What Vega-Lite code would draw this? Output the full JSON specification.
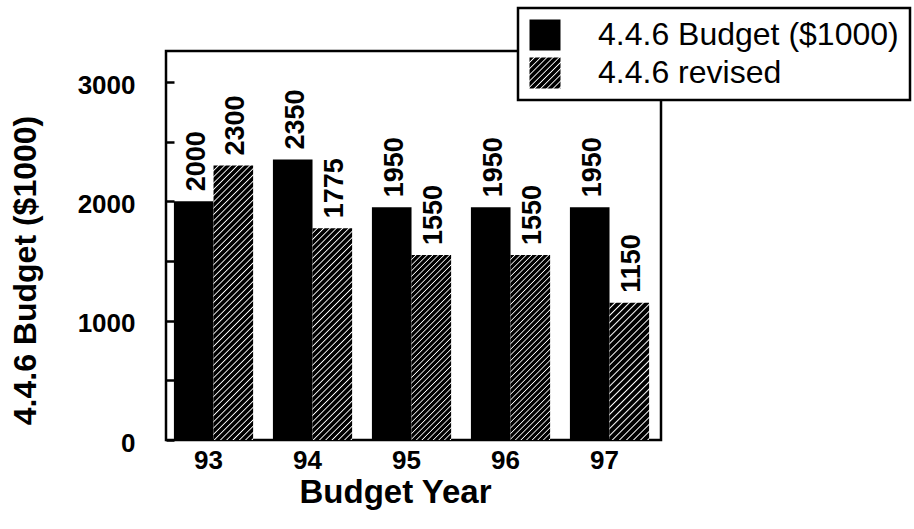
{
  "$schema": "https://vega.github.io/schema/vega-lite/v6.json",
  "width": 495,
  "height": 389,
  "autosize": {"type": "none"},
  "padding": {"left": 166, "top": 51, "right": 253, "bottom": 89},
  "background": "white",
  "config": {"view": {"stroke": "black", "strokeWidth": 2.5, "fill": "white"}, "font": "Liberation Sans", "legend": {"strokeWidth": 2.5}},
  "params": [
    {"name": "legendHatch", "value": {"gradient": "linear", "x1": 0, "y1": 0, "x2": 1, "y2": 1, "stops": [
{"offset":0,"color":"#000"},{"offset":0.06,"color":"#000"},{"offset":0.08,"color":"#fff"},
{"offset":0.1,"color":"#000"},{"offset":0.16,"color":"#000"},{"offset":0.18,"color":"#fff"},
{"offset":0.2,"color":"#000"},{"offset":0.26,"color":"#000"},{"offset":0.28,"color":"#fff"},
{"offset":0.3,"color":"#000"},{"offset":0.36,"color":"#000"},{"offset":0.38,"color":"#fff"},
{"offset":0.4,"color":"#000"},{"offset":0.46,"color":"#000"},{"offset":0.48,"color":"#fff"},
{"offset":0.5,"color":"#000"},{"offset":0.56,"color":"#000"},{"offset":0.58,"color":"#fff"},
{"offset":0.6,"color":"#000"},{"offset":0.66,"color":"#000"},{"offset":0.68,"color":"#fff"},
{"offset":0.7,"color":"#000"},{"offset":0.76,"color":"#000"},{"offset":0.78,"color":"#fff"},
{"offset":0.8,"color":"#000"},{"offset":0.86,"color":"#000"},{"offset":0.88,"color":"#fff"},
{"offset":0.9,"color":"#000"},{"offset":0.96,"color":"#000"},{"offset":0.98,"color":"#fff"},
{"offset":1,"color":"#000"}]}}
  ],
  "data": {"values": [
    {"Year": "93", "Series": "4.4.6 Budget ($1000)", "Value": 2000},
    {"Year": "93", "Series": "4.4.6 revised", "Value": 2300},
    {"Year": "94", "Series": "4.4.6 Budget ($1000)", "Value": 2350},
    {"Year": "94", "Series": "4.4.6 revised", "Value": 1775},
    {"Year": "95", "Series": "4.4.6 Budget ($1000)", "Value": 1950},
    {"Year": "95", "Series": "4.4.6 revised", "Value": 1550},
    {"Year": "96", "Series": "4.4.6 Budget ($1000)", "Value": 1950},
    {"Year": "96", "Series": "4.4.6 revised", "Value": 1550},
    {"Year": "97", "Series": "4.4.6 Budget ($1000)", "Value": 1950},
    {"Year": "97", "Series": "4.4.6 revised", "Value": 1150}
  ]},
  "encoding": {
    "x": {"field": "Year", "type": "nominal", "title": "Budget Year",
      "scale": {"paddingInner": 0.2, "paddingOuter": 0.1, "align": 0.4},
      "axis": {"ticks": false, "domain": false, "grid": false, "labelAngle": 0, "labelFont": "Liberation Sans", "labelFontSize": 26, "labelFontWeight": "bold", "labelColor": "black", "labelPadding": 7, "labelOffset": -5,
        "titleFont": "Liberation Sans", "titleFontSize": 33, "titleFontWeight": "bold", "titleColor": "black", "titleX": 229, "titleY": 62, "titleBaseline": "alphabetic", "titleAlign": "center"}},
    "xOffset": {"field": "Series", "type": "nominal", "scale": {"domain": ["4.4.6 Budget ($1000)", "4.4.6 revised"]}},
    "y": {"field": "Value", "type": "quantitative", "title": "4.4.6 Budget ($1000)",
      "scale": {"domain": [0, 3260], "nice": false},
      "axis": {"values": [0, 500, 1000, 1500, 2000, 2500, 3000], "format": "d", "labelExpr": "datum.value % 1000 == 0 ? datum.label : ''",
        "domain": false, "grid": false, "tickSize": -8, "tickWidth": 2.5, "tickColor": "black",
        "labelFont": "Liberation Sans", "labelFontSize": 26, "labelFontWeight": "bold", "labelColor": "black", "labelPadding": 39, "labelOffset": 3,
        "titleFont": "Liberation Sans", "titleFontSize": 32, "titleFontWeight": "bold", "titleColor": "black", "titleAngle": 270, "titleX": -141, "titleY": 219, "titleAlign": "center", "titleBaseline": "middle"}}
  },
  "layer": [
    {"mark": {"type": "bar"},
     "encoding": {
      "fill": {"field": "Series", "type": "nominal",
        "scale": {"domain": ["4.4.6 Budget ($1000)", "4.4.6 revised"], "range": ["black", {"expr": "legendHatch"}]},
        "legend": {"title": null, "orient": "none", "legendX": 352, "legendY": -43, "symbolType": "square", "symbolSize": 961, "symbolStrokeWidth": 0, "symbolOpacity": 1,
          "labelFont": "Liberation Sans", "labelFontSize": 32, "labelColor": "black", "labelOffset": 37, "labelLimit": 500, "padding": 11, "rowPadding": 6,
          "strokeColor": "black", "fillColor": "white"},
        "condition": [
          {"test": "datum.Series == '4.4.6 revised' && datum.Year == '93'", "value": {"gradient": "linear", "x1": 0, "y1": 0, "x2": 0.1617, "y2": 1.1209, "stops": [
{"offset":0,"color":"#000"},{"offset":0.012,"color":"#000"},{"offset":0.016,"color":"#fff"},
{"offset":0.02,"color":"#000"},{"offset":0.032,"color":"#000"},{"offset":0.036,"color":"#fff"},
{"offset":0.04,"color":"#000"},{"offset":0.052,"color":"#000"},{"offset":0.056,"color":"#fff"},
{"offset":0.06,"color":"#000"},{"offset":0.072,"color":"#000"},{"offset":0.076,"color":"#fff"},
{"offset":0.08,"color":"#000"},{"offset":0.092,"color":"#000"},{"offset":0.096,"color":"#fff"},
{"offset":0.1,"color":"#000"},{"offset":0.112,"color":"#000"},{"offset":0.116,"color":"#fff"},
{"offset":0.12,"color":"#000"},{"offset":0.132,"color":"#000"},{"offset":0.136,"color":"#fff"},
{"offset":0.14,"color":"#000"},{"offset":0.152,"color":"#000"},{"offset":0.156,"color":"#fff"},
{"offset":0.16,"color":"#000"},{"offset":0.172,"color":"#000"},{"offset":0.176,"color":"#fff"},
{"offset":0.18,"color":"#000"},{"offset":0.192,"color":"#000"},{"offset":0.196,"color":"#fff"},
{"offset":0.2,"color":"#000"},{"offset":0.212,"color":"#000"},{"offset":0.216,"color":"#fff"},
{"offset":0.22,"color":"#000"},{"offset":0.232,"color":"#000"},{"offset":0.236,"color":"#fff"},
{"offset":0.24,"color":"#000"},{"offset":0.252,"color":"#000"},{"offset":0.256,"color":"#fff"},
{"offset":0.26,"color":"#000"},{"offset":0.272,"color":"#000"},{"offset":0.276,"color":"#fff"},
{"offset":0.28,"color":"#000"},{"offset":0.292,"color":"#000"},{"offset":0.296,"color":"#fff"},
{"offset":0.3,"color":"#000"},{"offset":0.312,"color":"#000"},{"offset":0.316,"color":"#fff"},
{"offset":0.32,"color":"#000"},{"offset":0.332,"color":"#000"},{"offset":0.336,"color":"#fff"},
{"offset":0.34,"color":"#000"},{"offset":0.352,"color":"#000"},{"offset":0.356,"color":"#fff"},
{"offset":0.36,"color":"#000"},{"offset":0.372,"color":"#000"},{"offset":0.376,"color":"#fff"},
{"offset":0.38,"color":"#000"},{"offset":0.392,"color":"#000"},{"offset":0.396,"color":"#fff"},
{"offset":0.4,"color":"#000"},{"offset":0.412,"color":"#000"},{"offset":0.416,"color":"#fff"},
{"offset":0.42,"color":"#000"},{"offset":0.432,"color":"#000"},{"offset":0.436,"color":"#fff"},
{"offset":0.44,"color":"#000"},{"offset":0.452,"color":"#000"},{"offset":0.456,"color":"#fff"},
{"offset":0.46,"color":"#000"},{"offset":0.472,"color":"#000"},{"offset":0.476,"color":"#fff"},
{"offset":0.48,"color":"#000"},{"offset":0.492,"color":"#000"},{"offset":0.496,"color":"#fff"},
{"offset":0.5,"color":"#000"},{"offset":0.512,"color":"#000"},{"offset":0.516,"color":"#fff"},
{"offset":0.52,"color":"#000"},{"offset":0.532,"color":"#000"},{"offset":0.536,"color":"#fff"},
{"offset":0.54,"color":"#000"},{"offset":0.552,"color":"#000"},{"offset":0.556,"color":"#fff"},
{"offset":0.56,"color":"#000"},{"offset":0.572,"color":"#000"},{"offset":0.576,"color":"#fff"},
{"offset":0.58,"color":"#000"},{"offset":0.592,"color":"#000"},{"offset":0.596,"color":"#fff"},
{"offset":0.6,"color":"#000"},{"offset":0.612,"color":"#000"},{"offset":0.616,"color":"#fff"},
{"offset":0.62,"color":"#000"},{"offset":0.632,"color":"#000"},{"offset":0.636,"color":"#fff"},
{"offset":0.64,"color":"#000"},{"offset":0.652,"color":"#000"},{"offset":0.656,"color":"#fff"},
{"offset":0.66,"color":"#000"},{"offset":0.672,"color":"#000"},{"offset":0.676,"color":"#fff"},
{"offset":0.68,"color":"#000"},{"offset":0.692,"color":"#000"},{"offset":0.696,"color":"#fff"},
{"offset":0.7,"color":"#000"},{"offset":0.712,"color":"#000"},{"offset":0.716,"color":"#fff"},
{"offset":0.72,"color":"#000"},{"offset":0.732,"color":"#000"},{"offset":0.736,"color":"#fff"},
{"offset":0.74,"color":"#000"},{"offset":0.752,"color":"#000"},{"offset":0.756,"color":"#fff"},
{"offset":0.76,"color":"#000"},{"offset":0.772,"color":"#000"},{"offset":0.776,"color":"#fff"},
{"offset":0.78,"color":"#000"},{"offset":0.792,"color":"#000"},{"offset":0.796,"color":"#fff"},
{"offset":0.8,"color":"#000"},{"offset":0.812,"color":"#000"},{"offset":0.816,"color":"#fff"},
{"offset":0.82,"color":"#000"},{"offset":0.832,"color":"#000"},{"offset":0.836,"color":"#fff"},
{"offset":0.84,"color":"#000"},{"offset":0.852,"color":"#000"},{"offset":0.856,"color":"#fff"},
{"offset":0.86,"color":"#000"},{"offset":0.872,"color":"#000"},{"offset":0.876,"color":"#fff"},
{"offset":0.88,"color":"#000"},{"offset":0.892,"color":"#000"},{"offset":0.896,"color":"#fff"},
{"offset":0.9,"color":"#000"},{"offset":0.912,"color":"#000"},{"offset":0.916,"color":"#fff"},
{"offset":0.92,"color":"#000"},{"offset":0.932,"color":"#000"},{"offset":0.936,"color":"#fff"},
{"offset":0.94,"color":"#000"},{"offset":0.952,"color":"#000"},{"offset":0.956,"color":"#fff"},
{"offset":0.96,"color":"#000"},{"offset":0.972,"color":"#000"},{"offset":0.976,"color":"#fff"},
{"offset":0.98,"color":"#000"},{"offset":0.992,"color":"#000"},{"offset":0.996,"color":"#fff"},
{"offset":1,"color":"#000"}]}},
          {"test": "datum.Series == '4.4.6 revised' && datum.Year == '94'", "value": {"gradient": "linear", "x1": 0, "y1": 0, "x2": 0.2144, "y2": 1.1469, "stops": [
{"offset":0,"color":"#000"},{"offset":0.015,"color":"#000"},{"offset":0.02,"color":"#fff"},
{"offset":0.025,"color":"#000"},{"offset":0.04,"color":"#000"},{"offset":0.045,"color":"#fff"},
{"offset":0.05,"color":"#000"},{"offset":0.065,"color":"#000"},{"offset":0.07,"color":"#fff"},
{"offset":0.075,"color":"#000"},{"offset":0.09,"color":"#000"},{"offset":0.095,"color":"#fff"},
{"offset":0.1,"color":"#000"},{"offset":0.115,"color":"#000"},{"offset":0.12,"color":"#fff"},
{"offset":0.125,"color":"#000"},{"offset":0.14,"color":"#000"},{"offset":0.145,"color":"#fff"},
{"offset":0.15,"color":"#000"},{"offset":0.165,"color":"#000"},{"offset":0.17,"color":"#fff"},
{"offset":0.175,"color":"#000"},{"offset":0.19,"color":"#000"},{"offset":0.195,"color":"#fff"},
{"offset":0.2,"color":"#000"},{"offset":0.215,"color":"#000"},{"offset":0.22,"color":"#fff"},
{"offset":0.225,"color":"#000"},{"offset":0.24,"color":"#000"},{"offset":0.245,"color":"#fff"},
{"offset":0.25,"color":"#000"},{"offset":0.265,"color":"#000"},{"offset":0.27,"color":"#fff"},
{"offset":0.275,"color":"#000"},{"offset":0.29,"color":"#000"},{"offset":0.295,"color":"#fff"},
{"offset":0.3,"color":"#000"},{"offset":0.315,"color":"#000"},{"offset":0.32,"color":"#fff"},
{"offset":0.325,"color":"#000"},{"offset":0.34,"color":"#000"},{"offset":0.345,"color":"#fff"},
{"offset":0.35,"color":"#000"},{"offset":0.365,"color":"#000"},{"offset":0.37,"color":"#fff"},
{"offset":0.375,"color":"#000"},{"offset":0.39,"color":"#000"},{"offset":0.395,"color":"#fff"},
{"offset":0.4,"color":"#000"},{"offset":0.415,"color":"#000"},{"offset":0.42,"color":"#fff"},
{"offset":0.425,"color":"#000"},{"offset":0.44,"color":"#000"},{"offset":0.445,"color":"#fff"},
{"offset":0.45,"color":"#000"},{"offset":0.465,"color":"#000"},{"offset":0.47,"color":"#fff"},
{"offset":0.475,"color":"#000"},{"offset":0.49,"color":"#000"},{"offset":0.495,"color":"#fff"},
{"offset":0.5,"color":"#000"},{"offset":0.515,"color":"#000"},{"offset":0.52,"color":"#fff"},
{"offset":0.525,"color":"#000"},{"offset":0.54,"color":"#000"},{"offset":0.545,"color":"#fff"},
{"offset":0.55,"color":"#000"},{"offset":0.565,"color":"#000"},{"offset":0.57,"color":"#fff"},
{"offset":0.575,"color":"#000"},{"offset":0.59,"color":"#000"},{"offset":0.595,"color":"#fff"},
{"offset":0.6,"color":"#000"},{"offset":0.615,"color":"#000"},{"offset":0.62,"color":"#fff"},
{"offset":0.625,"color":"#000"},{"offset":0.64,"color":"#000"},{"offset":0.645,"color":"#fff"},
{"offset":0.65,"color":"#000"},{"offset":0.665,"color":"#000"},{"offset":0.67,"color":"#fff"},
{"offset":0.675,"color":"#000"},{"offset":0.69,"color":"#000"},{"offset":0.695,"color":"#fff"},
{"offset":0.7,"color":"#000"},{"offset":0.715,"color":"#000"},{"offset":0.72,"color":"#fff"},
{"offset":0.725,"color":"#000"},{"offset":0.74,"color":"#000"},{"offset":0.745,"color":"#fff"},
{"offset":0.75,"color":"#000"},{"offset":0.765,"color":"#000"},{"offset":0.77,"color":"#fff"},
{"offset":0.775,"color":"#000"},{"offset":0.79,"color":"#000"},{"offset":0.795,"color":"#fff"},
{"offset":0.8,"color":"#000"},{"offset":0.815,"color":"#000"},{"offset":0.82,"color":"#fff"},
{"offset":0.825,"color":"#000"},{"offset":0.84,"color":"#000"},{"offset":0.845,"color":"#fff"},
{"offset":0.85,"color":"#000"},{"offset":0.865,"color":"#000"},{"offset":0.87,"color":"#fff"},
{"offset":0.875,"color":"#000"},{"offset":0.89,"color":"#000"},{"offset":0.895,"color":"#fff"},
{"offset":0.9,"color":"#000"},{"offset":0.915,"color":"#000"},{"offset":0.92,"color":"#fff"},
{"offset":0.925,"color":"#000"},{"offset":0.94,"color":"#000"},{"offset":0.945,"color":"#fff"},
{"offset":0.95,"color":"#000"},{"offset":0.965,"color":"#000"},{"offset":0.97,"color":"#fff"},
{"offset":0.975,"color":"#000"},{"offset":0.99,"color":"#000"},{"offset":0.995,"color":"#fff"},
{"offset":1,"color":"#000"}]}},
          {"test": "datum.Series == '4.4.6 revised' && (datum.Year == '95' || datum.Year == '96')", "value": {"gradient": "linear", "x1": 0, "y1": 0, "x2": 0.2486, "y2": 1.1609, "stops": [
{"offset":0,"color":"#000"},{"offset":0.015,"color":"#000"},{"offset":0.02,"color":"#fff"},
{"offset":0.025,"color":"#000"},{"offset":0.04,"color":"#000"},{"offset":0.045,"color":"#fff"},
{"offset":0.05,"color":"#000"},{"offset":0.065,"color":"#000"},{"offset":0.07,"color":"#fff"},
{"offset":0.075,"color":"#000"},{"offset":0.09,"color":"#000"},{"offset":0.095,"color":"#fff"},
{"offset":0.1,"color":"#000"},{"offset":0.115,"color":"#000"},{"offset":0.12,"color":"#fff"},
{"offset":0.125,"color":"#000"},{"offset":0.14,"color":"#000"},{"offset":0.145,"color":"#fff"},
{"offset":0.15,"color":"#000"},{"offset":0.165,"color":"#000"},{"offset":0.17,"color":"#fff"},
{"offset":0.175,"color":"#000"},{"offset":0.19,"color":"#000"},{"offset":0.195,"color":"#fff"},
{"offset":0.2,"color":"#000"},{"offset":0.215,"color":"#000"},{"offset":0.22,"color":"#fff"},
{"offset":0.225,"color":"#000"},{"offset":0.24,"color":"#000"},{"offset":0.245,"color":"#fff"},
{"offset":0.25,"color":"#000"},{"offset":0.265,"color":"#000"},{"offset":0.27,"color":"#fff"},
{"offset":0.275,"color":"#000"},{"offset":0.29,"color":"#000"},{"offset":0.295,"color":"#fff"},
{"offset":0.3,"color":"#000"},{"offset":0.315,"color":"#000"},{"offset":0.32,"color":"#fff"},
{"offset":0.325,"color":"#000"},{"offset":0.34,"color":"#000"},{"offset":0.345,"color":"#fff"},
{"offset":0.35,"color":"#000"},{"offset":0.365,"color":"#000"},{"offset":0.37,"color":"#fff"},
{"offset":0.375,"color":"#000"},{"offset":0.39,"color":"#000"},{"offset":0.395,"color":"#fff"},
{"offset":0.4,"color":"#000"},{"offset":0.415,"color":"#000"},{"offset":0.42,"color":"#fff"},
{"offset":0.425,"color":"#000"},{"offset":0.44,"color":"#000"},{"offset":0.445,"color":"#fff"},
{"offset":0.45,"color":"#000"},{"offset":0.465,"color":"#000"},{"offset":0.47,"color":"#fff"},
{"offset":0.475,"color":"#000"},{"offset":0.49,"color":"#000"},{"offset":0.495,"color":"#fff"},
{"offset":0.5,"color":"#000"},{"offset":0.515,"color":"#000"},{"offset":0.52,"color":"#fff"},
{"offset":0.525,"color":"#000"},{"offset":0.54,"color":"#000"},{"offset":0.545,"color":"#fff"},
{"offset":0.55,"color":"#000"},{"offset":0.565,"color":"#000"},{"offset":0.57,"color":"#fff"},
{"offset":0.575,"color":"#000"},{"offset":0.59,"color":"#000"},{"offset":0.595,"color":"#fff"},
{"offset":0.6,"color":"#000"},{"offset":0.615,"color":"#000"},{"offset":0.62,"color":"#fff"},
{"offset":0.625,"color":"#000"},{"offset":0.64,"color":"#000"},{"offset":0.645,"color":"#fff"},
{"offset":0.65,"color":"#000"},{"offset":0.665,"color":"#000"},{"offset":0.67,"color":"#fff"},
{"offset":0.675,"color":"#000"},{"offset":0.69,"color":"#000"},{"offset":0.695,"color":"#fff"},
{"offset":0.7,"color":"#000"},{"offset":0.715,"color":"#000"},{"offset":0.72,"color":"#fff"},
{"offset":0.725,"color":"#000"},{"offset":0.74,"color":"#000"},{"offset":0.745,"color":"#fff"},
{"offset":0.75,"color":"#000"},{"offset":0.765,"color":"#000"},{"offset":0.77,"color":"#fff"},
{"offset":0.775,"color":"#000"},{"offset":0.79,"color":"#000"},{"offset":0.795,"color":"#fff"},
{"offset":0.8,"color":"#000"},{"offset":0.815,"color":"#000"},{"offset":0.82,"color":"#fff"},
{"offset":0.825,"color":"#000"},{"offset":0.84,"color":"#000"},{"offset":0.845,"color":"#fff"},
{"offset":0.85,"color":"#000"},{"offset":0.865,"color":"#000"},{"offset":0.87,"color":"#fff"},
{"offset":0.875,"color":"#000"},{"offset":0.89,"color":"#000"},{"offset":0.895,"color":"#fff"},
{"offset":0.9,"color":"#000"},{"offset":0.915,"color":"#000"},{"offset":0.92,"color":"#fff"},
{"offset":0.925,"color":"#000"},{"offset":0.94,"color":"#000"},{"offset":0.945,"color":"#fff"},
{"offset":0.95,"color":"#000"},{"offset":0.965,"color":"#000"},{"offset":0.97,"color":"#fff"},
{"offset":0.975,"color":"#000"},{"offset":0.99,"color":"#000"},{"offset":0.995,"color":"#fff"},
{"offset":1,"color":"#000"}]}},
          {"test": "datum.Series == '4.4.6 revised' && datum.Year == '97'", "value": {"gradient": "linear", "x1": 0, "y1": 0, "x2": 0.3433, "y2": 1.1895, "stops": [
{"offset":0,"color":"#000"},{"offset":0.024,"color":"#000"},{"offset":0.032,"color":"#fff"},
{"offset":0.04,"color":"#000"},{"offset":0.064,"color":"#000"},{"offset":0.072,"color":"#fff"},
{"offset":0.08,"color":"#000"},{"offset":0.104,"color":"#000"},{"offset":0.112,"color":"#fff"},
{"offset":0.12,"color":"#000"},{"offset":0.144,"color":"#000"},{"offset":0.152,"color":"#fff"},
{"offset":0.16,"color":"#000"},{"offset":0.184,"color":"#000"},{"offset":0.192,"color":"#fff"},
{"offset":0.2,"color":"#000"},{"offset":0.224,"color":"#000"},{"offset":0.232,"color":"#fff"},
{"offset":0.24,"color":"#000"},{"offset":0.264,"color":"#000"},{"offset":0.272,"color":"#fff"},
{"offset":0.28,"color":"#000"},{"offset":0.304,"color":"#000"},{"offset":0.312,"color":"#fff"},
{"offset":0.32,"color":"#000"},{"offset":0.344,"color":"#000"},{"offset":0.352,"color":"#fff"},
{"offset":0.36,"color":"#000"},{"offset":0.384,"color":"#000"},{"offset":0.392,"color":"#fff"},
{"offset":0.4,"color":"#000"},{"offset":0.424,"color":"#000"},{"offset":0.432,"color":"#fff"},
{"offset":0.44,"color":"#000"},{"offset":0.464,"color":"#000"},{"offset":0.472,"color":"#fff"},
{"offset":0.48,"color":"#000"},{"offset":0.504,"color":"#000"},{"offset":0.512,"color":"#fff"},
{"offset":0.52,"color":"#000"},{"offset":0.544,"color":"#000"},{"offset":0.552,"color":"#fff"},
{"offset":0.56,"color":"#000"},{"offset":0.584,"color":"#000"},{"offset":0.592,"color":"#fff"},
{"offset":0.6,"color":"#000"},{"offset":0.624,"color":"#000"},{"offset":0.632,"color":"#fff"},
{"offset":0.64,"color":"#000"},{"offset":0.664,"color":"#000"},{"offset":0.672,"color":"#fff"},
{"offset":0.68,"color":"#000"},{"offset":0.704,"color":"#000"},{"offset":0.712,"color":"#fff"},
{"offset":0.72,"color":"#000"},{"offset":0.744,"color":"#000"},{"offset":0.752,"color":"#fff"},
{"offset":0.76,"color":"#000"},{"offset":0.784,"color":"#000"},{"offset":0.792,"color":"#fff"},
{"offset":0.8,"color":"#000"},{"offset":0.824,"color":"#000"},{"offset":0.832,"color":"#fff"},
{"offset":0.84,"color":"#000"},{"offset":0.864,"color":"#000"},{"offset":0.872,"color":"#fff"},
{"offset":0.88,"color":"#000"},{"offset":0.904,"color":"#000"},{"offset":0.912,"color":"#fff"},
{"offset":0.92,"color":"#000"},{"offset":0.944,"color":"#000"},{"offset":0.952,"color":"#fff"},
{"offset":0.96,"color":"#000"},{"offset":0.984,"color":"#000"},{"offset":0.992,"color":"#fff"},
{"offset":1,"color":"#000"}]}}
        ]}
     }},
    {"mark": {"type": "text", "angle": 270, "align": "left", "baseline": "middle", "dx": 10, "dy": 3, "font": "Liberation Sans", "fontWeight": "bold", "fontSize": 27, "color": "black"},
     "encoding": {"text": {"field": "Value", "type": "quantitative", "format": "d"}}}
  ]
}
